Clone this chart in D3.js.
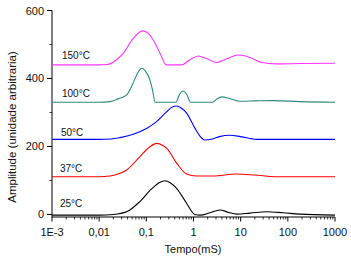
<!DOCTYPE html>
<html>
<head>
<meta charset="utf-8">
<script src="https://cdn.jsdelivr.net/npm/d3@7"></script>
<style>
  html, body { margin: 0; padding: 0; background: #fff; }
  svg { display: block; font-family: "Liberation Sans", Arial, sans-serif; }
</style>
</head>
<body>
<svg id="chart" width="351" height="258"></svg>
<script>
// ---- data (time in ms, amplitude in arbitrary units) ----
const seriesNames = ["25°C", "37°C", "50°C", "100°C", "150°C"];
const seriesColors = ["#000000", "#ff0000", "#0000ff", "#2e8b7b", "#ff33ff"];

const t25 = [0.001, 0.01, 0.0199, 0.0383, 0.0731, 0.129, 0.191, 0.248, 0.331, 0.439, 0.714, 1.07, 1.37, 2.24, 3.62, 5.62, 8.18, 15.8, 35.4, 79.4, 179, 1000];
const v25 = [-2, -2, 0, 8, 38, 75, 94, 99, 92, 77, 33, 0, -2, 5, 13, 6, 1, 4, 8, 5, 1, -2];

const t37 = [0.001, 0.01, 0.0169, 0.0251, 0.0383, 0.0731, 0.119, 0.165, 0.224, 0.269, 0.439, 0.714, 1.16, 2.61, 8.18, 20, 57.7, 1000];
const v37 = [111, 111, 113, 119, 131, 170, 199, 209, 203, 195, 151, 119, 113, 113, 119, 116, 111, 111];

const t50 = [0.001, 0.01, 0.0178, 0.0276, 0.0527, 0.101, 0.165, 0.269, 0.355, 0.439, 0.550, 0.714, 1.07, 1.41, 1.75, 2.51, 3.55, 5.90, 10, 21.7, 1000];
const v50 = [221, 221, 222, 226, 236, 253, 273, 302, 316, 319, 313, 298, 254, 228, 219, 222, 229, 233, 229, 221, 221];

const t100 = [0.001, 0.01, 0.0169, 0.0251, 0.0383, 0.0501, 0.0631, 0.0807, 0.1, 0.119, 0.138, 0.152, 0.158, 0.424, 0.501, 0.605, 0.724, 0.869, 2.54, 3.16, 3.94, 5.90, 9.62, 20, 48.9, 179, 1000];
const v100 = [330, 330, 332, 340, 352, 380, 412, 430, 418, 396, 360, 331, 330, 330, 352, 363, 352, 330, 330, 340, 346, 341, 333, 334, 335, 332, 330];

const t150 = [0.001, 0.01, 0.0141, 0.0169, 0.0234, 0.0324, 0.0527, 0.0836, 0.112, 0.140, 0.211, 0.251, 0.269, 0.560, 0.839, 1.26, 1.92, 3.08, 5.11, 8.85, 15.7, 27.7, 57.7, 178, 1000];
const v150 = [440, 440, 441, 443, 455, 474, 518, 540, 532, 513, 464, 442, 440, 440, 455, 466, 458, 447, 458, 469, 462, 447, 443, 444, 445];

const seriesTimes = [t25, t37, t50, t100, t150];
const seriesValues = [v25, v37, v50, v100, v150];

const xTickValues = [0.001, 0.01, 0.1, 1, 10, 100, 1000];
const xTickLabels = ["1E-3", "0,01", "0,1", "1", "10", "100", "1000"];
const yTickValues = [0, 200, 400, 600];
const yMinorTicks = [100, 300, 500];

// ---- layout ----
const svg = d3.select("#chart");
const x = d3.scaleLog().domain([0.001, 1000]).range([52, 335]);
const y = d3.scaleLinear().domain([-7.5, 600]).range([217, 10.5]);

// minor x ticks (2..9 within each decade)
const xMinor = [];
for (let e = -3; e < 3; e++) for (let k = 2; k <= 9; k++) xMinor.push(k * Math.pow(10, e));

const gx = svg.append("g").attr("transform", "translate(0,217)");
gx.append("line").attr("x1", 52).attr("x2", 335).attr("stroke", "#000").attr("stroke-width", 1);
gx.selectAll(".minor").data(xMinor).join("line")
  .attr("x1", d => x(d)).attr("x2", d => x(d)).attr("y1", 0).attr("y2", 2.5)
  .attr("stroke", "#000").attr("stroke-width", 0.8);
gx.selectAll(".major").data(xTickValues).join("line")
  .attr("x1", d => x(d)).attr("x2", d => x(d)).attr("y1", 0).attr("y2", 4.5)
  .attr("stroke", "#000").attr("stroke-width", 1);
gx.selectAll("text").data(xTickValues).join("text")
  .attr("x", d => x(d)).attr("y", 18.5)
  .attr("text-anchor", "middle").attr("font-size", 11).attr("fill", "#111")
  .text((d, i) => xTickLabels[i]);

const gy = svg.append("g").attr("transform", "translate(52,0)");
gy.append("line").attr("y1", 217).attr("y2", 10.5).attr("stroke", "#000").attr("stroke-width", 1);
gy.selectAll(".major").data(yTickValues).join("line")
  .attr("x1", -5).attr("x2", 0).attr("y1", d => y(d)).attr("y2", d => y(d))
  .attr("stroke", "#000");
gy.selectAll(".minor").data(yMinorTicks).join("line")
  .attr("x1", -2.5).attr("x2", 0).attr("y1", d => y(d)).attr("y2", d => y(d))
  .attr("stroke", "#000").attr("stroke-width", 0.8);
gy.selectAll("text").data(yTickValues).join("text")
  .attr("x", -8).attr("y", d => y(d) + 4)
  .attr("text-anchor", "end").attr("font-size", 11).attr("fill", "#111")
  .text(d => d);

// axis titles
svg.append("text").attr("x", 193).attr("y", 253).attr("text-anchor", "middle")
  .attr("font-size", 11).attr("fill", "#111").text("Tempo(mS)");
svg.append("text").attr("transform", "translate(15.5,127) rotate(-90)")
  .attr("text-anchor", "middle").attr("font-size", 11.5).attr("fill", "#111")
  .text("Amplitude (unidade arbitraria)");

// curves
const line = d3.line().x(d => x(d[0])).y(d => y(d[1])).curve(d3.curveMonotoneX);
seriesNames.forEach((name, i) => {
  const pts = seriesTimes[i].map((t, j) => [t, seriesValues[i][j]]);
  svg.append("path").datum(pts).attr("d", line)
    .attr("fill", "none").attr("stroke", seriesColors[i]).attr("stroke-width", 1.1);
});

// series labels (placed above each baseline)
const labelBaselines = [207, 172, 136, 97, 59];
const labelX = [60, 60, 61, 62, 62];
seriesNames.forEach((name, i) => {
  svg.append("text").attr("x", labelX[i]).attr("y", labelBaselines[i])
    .attr("font-size", 10).attr("fill", "#111").text(name);
});
</script>
</body>
</html>
